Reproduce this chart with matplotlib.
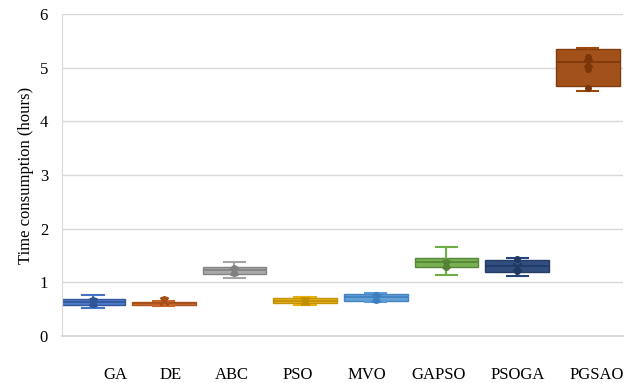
import matplotlib
matplotlib.use("Agg")
import matplotlib.pyplot as plt

categories = ['GA', 'DE', 'ABC', 'PSO', 'MVO', 'GAPSO', 'PSOGA', 'PGSAO']
whisker_lo = [0.53, 0.56, 1.08, 0.57, 0.63, 1.14, 1.12, 4.56]
q1 = [0.58, 0.58, 1.15, 0.62, 0.66, 1.28, 1.20, 4.66]
median = [0.63, 0.61, 1.23, 0.66, 0.72, 1.37, 1.31, 5.11]
q3 = [0.69, 0.63, 1.29, 0.70, 0.78, 1.46, 1.42, 5.34]
whisker_hi = [0.76, 0.66, 1.37, 0.72, 0.81, 1.66, 1.45, 5.37]
means = [0.64, 0.66, 1.22, 0.65, 0.71, 1.35, 1.28, 5.08]
inner_pts = [[0.60, 0.68], [0.69], [1.17, 1.27], [0.63, 0.68],
             [0.67, 0.77], [1.28, 1.38], [1.21, 1.43], [4.63, 5.19, 4.98]]

fill_colors = ['#4472C4', '#C9652A', '#A5A5A5', '#E8AE0C', '#5B9BD5',
               '#70AD47', '#264478', '#9E480E']
edge_colors = ['#2F5597', '#A64F1A', '#808080', '#BF8F00', '#3F7FBF',
               '#548235', '#1F3864', '#7A3608']

# x positions of the category labels (Excel puts them a bit off the boxes)
label_x = [0.31, 1.10, 1.96, 2.90, 3.88, 4.89, 6.01, 7.13]

stats = []
for i in range(len(categories)):
    stats.append({'whislo': whisker_lo[i], 'q1': q1[i], 'med': median[i],
                  'q3': q3[i], 'whishi': whisker_hi[i], 'mean': means[i],
                  'fliers': []})

plt.rcParams['font.family'] = ['Liberation Serif', 'DejaVu Serif']

fig = plt.figure(figsize=(6.32, 3.83), dpi=100)
ax = fig.add_axes([0.098, 0.1227, 0.888, 0.8407])

bp = ax.bxp(stats, positions=range(len(categories)), widths=0.9,
            patch_artist=True, showmeans=True, capwidths=0.3,
            meanprops=dict(marker='x', markersize=6, markeredgewidth=1.8))

for i, box in enumerate(bp['boxes']):
    box.set_facecolor(fill_colors[i])
    box.set_edgecolor(edge_colors[i])
    box.set_alpha(0.95)
    box.set_linewidth(1.0)
    bp['medians'][i].set_color(edge_colors[i])
    bp['medians'][i].set_linewidth(1.2)
    bp['means'][i].set_markeredgecolor(edge_colors[i])
    for ln in bp['whiskers'][2 * i:2 * i + 2] + bp['caps'][2 * i:2 * i + 2]:
        ln.set_color(fill_colors[i])
        ln.set_linewidth(1.5)
    ax.plot([i] * len(inner_pts[i]), inner_pts[i], 'o', ms=4,
            color=edge_colors[i], zorder=4)

ax.set_ylim(0, 6)
ax.set_xlim(-0.44, 7.5)
ax.set_yticks(range(7))
ax.yaxis.grid(True, color='#D9D9D9', linewidth=1)
ax.axhline(0, color='#D9D9D9', linewidth=1.5, clip_on=False, zorder=0)
ax.set_axisbelow(True)
ax.set_xticks(label_x, categories)
ax.tick_params(axis='x', length=0, pad=22, labelsize=12)
ax.tick_params(axis='y', length=0, pad=10, labelsize=12)
ax.set_ylabel('Time consumption (hours)', fontsize=12, labelpad=4)
for s in ['top', 'right', 'bottom']:
    ax.spines[s].set_visible(False)
ax.spines['left'].set_color('#D9D9D9')

fig.savefig('out.png', dpi=100)
